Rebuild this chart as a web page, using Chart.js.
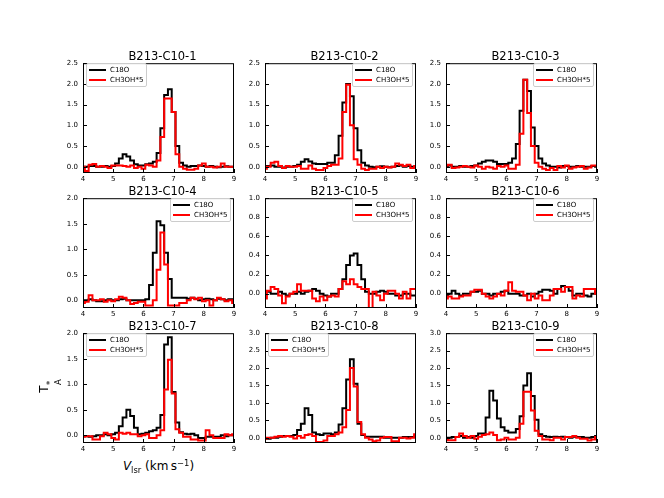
<!DOCTYPE html>
<html><head><meta charset="utf-8">
<script src="https://cdn.jsdelivr.net/npm/chart.js@4.4.1/dist/chart.umd.min.js"></script>
<style>
body{margin:0;background:#fff;width:664px;height:498px;overflow:hidden;position:relative;font-family:'DejaVu Sans',sans-serif;color:#000}
canvas{position:absolute}
.title{position:absolute;text-align:center;font-size:11.5px;line-height:12px;white-space:nowrap}
.legend{position:absolute;box-sizing:border-box;border:1px solid #cccccc;border-radius:2px;background:rgba(255,255,255,0.8);width:61px;height:24px;font-size:7px;z-index:5}
.legend .ln{position:absolute;left:2.3px;width:17px;height:2px}
.legend .tx{position:absolute;left:23px;line-height:10px;white-space:nowrap}
.xlabel{position:absolute;text-align:center;font-size:12px;line-height:14px;white-space:nowrap}
.ylabel{position:absolute;font-size:12px;line-height:14px;white-space:nowrap;transform:translate(-50%,-50%) rotate(-90deg)}
.sm{font-size:8.4px;position:relative}
</style>
</head><body>
<script>
const velocity = [4.000,4.125,4.250,4.375,4.500,4.625,4.750,4.875,5.000,5.125,
  5.250,5.375,5.500,5.625,5.750,5.875,6.000,6.125,6.250,6.375,
  6.500,6.625,6.750,6.875,7.000,7.125,7.250,7.375,7.500,7.625,
  7.750,7.875,8.000,8.125,8.250,8.375,8.500,8.625,8.750,8.875,9.000];
const titles = ['B213-C10-1','B213-C10-2','B213-C10-3','B213-C10-4','B213-C10-5','B213-C10-6','B213-C10-7','B213-C10-8','B213-C10-9'];
const seriesNames = ['C18O','CH3OH*5'];

const c18o_1 = [0.00,0.00,0.02,0.02,0.00,0.00,0.02,0.00,0.02,0.08,
  0.20,0.30,0.25,0.15,0.06,0.03,0.03,0.06,0.08,0.12,
  0.33,0.93,1.73,1.87,1.32,0.50,0.10,0.03,0.00,0.02,
  0.02,0.03,0.02,0.00,0.02,0.00,-0.01,0.00,0.01,0.00,0.00];
const ch3oh_1 = [0.00,-0.10,0.05,0.07,0.00,0.02,0.00,-0.03,0.03,0.03,
  0.03,0.02,0.00,0.03,-0.03,0.00,-0.05,0.05,0.03,0.00,
  0.15,0.72,1.65,1.65,1.32,0.30,0.00,-0.05,-0.07,-0.07,
  -0.05,0.03,0.08,0.00,0.00,-0.02,0.00,0.08,0.00,0.00,0.00];
const c18o_2 = [0.00,0.02,0.03,0.00,0.00,-0.02,0.00,0.00,0.02,0.05,
  0.12,0.18,0.13,0.08,0.07,0.07,0.07,0.10,0.10,0.28,
  0.75,1.55,2.00,1.70,0.93,0.40,0.10,0.03,0.00,-0.01,
  0.00,0.01,0.00,-0.01,0.00,0.02,0.03,0.00,0.02,0.00,0.00];
const ch3oh_2 = [-0.05,0.00,0.10,0.12,0.02,-0.03,0.02,0.00,0.00,0.02,
  -0.05,-0.05,0.03,-0.05,-0.08,-0.08,-0.03,0.02,0.05,0.05,
  0.20,1.32,1.98,1.00,0.18,0.05,-0.05,-0.08,-0.05,-0.05,
  0.00,-0.03,0.00,-0.02,0.00,0.08,0.05,0.02,0.05,-0.03,0.02];
const c18o_3 = [0.02,0.03,0.00,0.00,0.02,0.00,0.00,0.02,0.03,0.08,
  0.12,0.15,0.15,0.12,0.07,0.07,0.07,0.10,0.20,0.55,
  1.35,2.10,1.83,0.95,0.50,0.20,0.08,0.03,0.00,0.00,
  -0.02,0.02,0.02,0.00,0.00,0.02,0.00,0.00,0.00,0.02,0.00];
const ch3oh_3 = [0.03,0.05,-0.03,-0.02,0.00,0.02,0.00,-0.02,0.03,0.00,
  -0.05,0.00,-0.02,-0.05,0.02,0.00,0.03,-0.05,-0.05,0.05,
  0.80,2.10,1.30,0.50,0.10,0.00,-0.05,-0.08,-0.03,-0.08,
  0.02,-0.02,0.03,-0.05,-0.02,0.00,0.02,-0.05,-0.02,0.03,0.03];
const c18o_4 = [0.00,0.00,0.02,0.00,-0.02,-0.02,0.00,0.02,0.00,0.00,
  0.02,0.03,0.00,0.00,0.00,0.00,0.00,0.02,0.30,0.93,
  1.55,1.47,0.93,0.42,0.05,0.05,0.05,0.05,0.03,0.05,
  0.03,0.00,0.02,0.03,0.02,0.00,0.03,0.02,0.00,0.02,0.00];
const ch3oh_4 = [-0.05,-0.03,0.10,0.00,0.00,0.02,-0.03,0.00,-0.02,0.02,
  0.07,0.05,0.00,-0.07,-0.05,-0.03,-0.03,-0.10,-0.10,0.00,
  0.60,1.33,0.70,-0.10,-0.10,-0.10,-0.05,-0.05,0.00,0.05,
  0.02,0.05,-0.02,0.00,-0.10,0.00,0.05,0.02,-0.02,0.00,-0.05];
const c18o_5 = [0.02,0.02,0.00,0.00,0.02,0.00,-0.02,0.00,0.00,0.02,
  0.00,0.02,0.03,0.05,0.03,0.00,-0.02,-0.03,0.00,0.00,
  0.05,0.15,0.30,0.40,0.42,0.30,0.15,0.02,0.00,0.00,
  0.02,0.03,0.02,0.00,0.00,-0.02,-0.02,0.00,0.00,-0.02,-0.02];
const ch3oh_5 = [-0.05,0.03,0.07,0.05,-0.02,-0.10,-0.03,0.00,0.02,0.10,
  0.03,0.03,0.03,-0.05,-0.08,-0.03,-0.07,-0.03,-0.02,-0.03,
  0.05,0.13,0.10,0.15,0.10,0.07,0.05,0.05,-0.20,0.02,
  -0.02,-0.07,0.00,0.03,0.03,0.00,-0.05,0.02,-0.05,0.05,0.05];
const c18o_6 = [-0.02,0.00,0.03,0.00,-0.02,0.00,0.00,0.02,0.02,0.03,
  0.00,0.00,-0.02,0.00,0.00,0.02,0.03,0.00,0.00,0.00,
  -0.02,-0.02,0.00,-0.03,0.00,0.02,0.04,0.04,0.03,0.00,
  0.05,0.08,0.07,0.03,-0.02,0.00,0.00,-0.02,-0.03,0.00,0.02];
const ch3oh_6 = [-0.05,-0.03,-0.05,-0.05,-0.03,-0.02,-0.02,0.02,0.04,0.04,
  0.00,-0.03,-0.05,-0.03,0.00,-0.02,0.03,0.12,0.03,0.02,
  0.02,-0.02,-0.07,0.00,-0.05,-0.02,-0.07,-0.07,-0.02,0.05,
  0.05,0.02,0.07,0.07,-0.05,-0.02,-0.03,0.05,0.05,0.05,0.00];
const c18o_7 = [-0.02,-0.02,-0.03,-0.02,0.00,0.00,0.02,0.00,0.02,0.05,
  0.18,0.35,0.50,0.38,0.15,0.02,0.03,0.05,0.08,0.10,
  0.15,0.40,1.78,1.92,0.85,0.25,0.06,0.03,0.02,0.03,
  0.00,-0.05,-0.05,-0.03,-0.03,-0.03,-0.03,0.00,-0.02,0.00,0.00];
const ch3oh_7 = [-0.03,-0.02,-0.02,-0.08,-0.08,-0.02,0.05,0.02,-0.05,-0.08,
  0.05,0.03,0.05,0.02,0.02,-0.02,0.00,0.02,-0.05,-0.05,
  0.00,0.10,0.90,1.48,0.82,0.12,0.05,-0.03,-0.03,-0.08,
  -0.08,-0.10,-0.10,0.10,0.00,-0.05,-0.05,-0.05,0.02,0.00,0.02];
const c18o_8 = [-0.03,-0.03,0.00,0.00,0.03,0.05,0.05,0.05,0.08,0.22,
  0.40,0.85,0.65,0.15,0.10,0.08,0.12,0.12,0.10,0.15,
  0.38,0.85,1.67,2.25,1.55,0.40,0.08,0.03,0.03,0.03,
  0.03,0.03,0.00,0.00,0.00,0.00,0.00,0.02,0.02,0.02,0.03];
const ch3oh_8 = [-0.03,0.00,0.00,0.03,0.05,0.03,0.05,0.03,-0.02,0.05,
  0.00,0.08,0.10,0.05,-0.12,-0.12,-0.08,0.05,0.05,0.10,
  0.15,0.30,0.80,2.00,1.47,0.45,0.10,0.00,-0.05,-0.10,
  -0.08,0.00,0.02,0.02,-0.10,-0.10,0.00,0.00,-0.02,0.00,0.10];
const c18o_9 = [0.00,0.00,0.02,0.02,0.05,0.00,0.02,0.00,0.05,0.12,
  0.12,0.58,1.35,1.07,0.55,0.30,0.20,0.15,0.15,0.25,
  0.62,1.50,1.85,1.20,0.52,0.10,0.05,0.03,0.02,0.03,
  0.02,0.03,0.02,0.00,0.03,0.02,0.02,0.00,0.00,0.02,0.05];
const ch3oh_9 = [-0.05,-0.07,-0.07,0.02,0.12,0.05,0.00,0.05,-0.03,0.03,
  0.08,0.10,0.15,0.08,-0.07,-0.05,0.00,-0.05,-0.05,0.00,
  0.40,1.32,1.32,0.78,0.20,0.05,-0.05,-0.05,-0.07,0.00,
  0.00,-0.05,0.02,0.02,0.05,0.00,-0.03,-0.03,-0.08,-0.05,0.02];

const yTicks_a = [0.0,0.5,1.0,1.5,2.0,2.5];
const yTicks_b = [0.0,0.5,1.0,1.5,2.0];
const yTicks_c = [0.0,0.2,0.4,0.6,0.8,1.0];
const yTicks_d = [0.0,0.5,1.0,1.5,2.0,2.5,3.0];
const xTicks = [4,5,6,7,8,9];
const yMin = -0.15;

const panels = [
  {c18o:c18o_1, ch3oh:ch3oh_1, yTicks:yTicks_a, legend:'left',  xLabels:true},
  {c18o:c18o_2, ch3oh:ch3oh_2, yTicks:yTicks_a, legend:'right', xLabels:true},
  {c18o:c18o_3, ch3oh:ch3oh_3, yTicks:yTicks_a, legend:'right', xLabels:true},
  {c18o:c18o_4, ch3oh:ch3oh_4, yTicks:yTicks_b, legend:'right', xLabels:true},
  {c18o:c18o_5, ch3oh:ch3oh_5, yTicks:yTicks_c, legend:'right', xLabels:true},
  {c18o:c18o_6, ch3oh:ch3oh_6, yTicks:yTicks_c, legend:'right', xLabels:true},
  {c18o:c18o_7, ch3oh:ch3oh_7, yTicks:yTicks_b, legend:'left',  xLabels:true},
  {c18o:c18o_8, ch3oh:ch3oh_8, yTicks:yTicks_d, legend:'left',  xLabels:false},
  {c18o:c18o_9, ch3oh:ch3oh_9, yTicks:yTicks_d, legend:'right', xLabels:true}
];

const colLeft = [83, 265, 446];
const rowTop = [60, 195, 330];
const AW = 151, AH = 113, YW = 30, PT = 6, PR = 8, XH = 16;
const FONT = "'DejaVu Sans', sans-serif";

function framePlugin(showX){
  return {
    id:'frame',
    afterDatasetsDraw(chart){
      const {ctx, chartArea:a, scales} = chart;
      ctx.save();
      ctx.strokeStyle = '#000'; ctx.lineWidth = 1;
      ctx.beginPath();
      scales.y.ticks.forEach(t => {
        const py = Math.round(scales.y.getPixelForValue(t.value)) + 0.5;
        ctx.moveTo(a.left, py); ctx.lineTo(a.left + 4, py);
      });
      if (showX) scales.x.ticks.forEach(t => {
        const px = Math.round(scales.x.getPixelForValue(t.value)) + 0.5;
        ctx.moveTo(px, a.bottom); ctx.lineTo(px, a.bottom - 4);
      });
      ctx.stroke();
      ctx.strokeRect(a.left + 0.5, a.top + 0.5, a.right - a.left - 1, a.bottom - a.top - 1);
      ctx.restore();
    }
  };
}

panels.forEach((p, i) => {
  const col = i % 3, row = Math.floor(i / 3);
  const L = colLeft[col], T = rowTop[row];
  const cv = document.createElement('canvas');
  cv.width = YW + AW + PR; cv.height = PT + AH + XH;
  cv.style.left = (L - YW) + 'px'; cv.style.top = (T - PT) + 'px';
  document.body.appendChild(cv);

  new Chart(cv, {
    type: 'line',
    data: { datasets: [
      { label: seriesNames[1], data: velocity.map((v, k) => ({x: v, y: p.ch3oh[k]})),
        borderColor: '#ff0000', borderWidth: 2, pointRadius: 0, stepped: 'middle', fill: false, order: 1 },
      { label: seriesNames[0], data: velocity.map((v, k) => ({x: v, y: p.c18o[k]})),
        borderColor: '#000000', borderWidth: 2, pointRadius: 0, stepped: 'middle', fill: false, order: 2 }
    ]},
    options: {
      responsive: false, animation: false, events: [],
      layout: { padding: { top: PT, right: PR, left: 0, bottom: 0 } },
      plugins: { legend: { display: false }, tooltip: { enabled: false }, title: { display: false } },
      scales: {
        x: {
          type: 'linear', min: 4, max: 9,
          grid: { display: false, drawTicks: false }, border: { display: false },
          afterBuildTicks: s => { s.ticks = xTicks.map(v => ({value: v})); },
          afterFit: s => { s.height = XH; },
          ticks: { display: p.xLabels, padding: 2, color: '#000', maxRotation: 0, autoSkip: false,
                   font: { family: FONT, size: 7 }, callback: v => String(v) }
        },
        y: {
          type: 'linear', min: yMin, max: p.yTicks[p.yTicks.length - 1],
          grid: { display: false, drawTicks: false }, border: { display: false },
          afterBuildTicks: s => { s.ticks = p.yTicks.map(v => ({value: v})); },
          afterFit: s => { s.width = YW; },
          ticks: { padding: 5, color: '#000', autoSkip: false,
                   font: { family: FONT, size: 7 }, callback: v => Number(v).toFixed(1) }
        }
      }
    },
    plugins: [framePlugin(p.xLabels)]
  });

  const t = document.createElement('div');
  t.className = 'title';
  t.style.left = (L + 4) + 'px'; t.style.width = AW + 'px'; t.style.top = (T - 10) + 'px';
  t.textContent = titles[i];
  document.body.appendChild(t);

  const lg = document.createElement('div');
  lg.className = 'legend';
  lg.style.left = (p.legend === 'left' ? L + 3 : L + AW - 3 - 61) + 'px';
  lg.style.top = (T + 3) + 'px';
  const cols = ['#000000', '#ff0000'];
  [0, 1].forEach(j => {
    const ln = document.createElement('div'); ln.className = 'ln';
    ln.style.top = (4.6 + 10 * j) + 'px'; ln.style.background = cols[j];
    const tx = document.createElement('div'); tx.className = 'tx';
    tx.style.top = (0.6 + 10 * j) + 'px'; tx.textContent = seriesNames[j];
    lg.appendChild(ln); lg.appendChild(tx);
  });
  document.body.appendChild(lg);
});

const xl = document.createElement('div');
xl.className = 'xlabel';
xl.style.left = colLeft[0] + 'px'; xl.style.width = AW + 'px'; xl.style.top = '459px';
xl.innerHTML = '<i>V</i><span class="sm" style="top:2.5px">lsr</span> (km&thinsp;s<span class="sm" style="top:-4.5px">\u22121</span>)';
document.body.appendChild(xl);

const yl = document.createElement('div');
yl.className = 'ylabel';
yl.style.left = '49px'; yl.style.top = '386px';
yl.innerHTML = 'T<span style="display:inline-flex;flex-direction:column;font-size:8.4px;line-height:8px;vertical-align:-5px;margin-left:0.5px"><span>*</span><span>A</span></span>';
document.body.appendChild(yl);
</script>
</body></html>
